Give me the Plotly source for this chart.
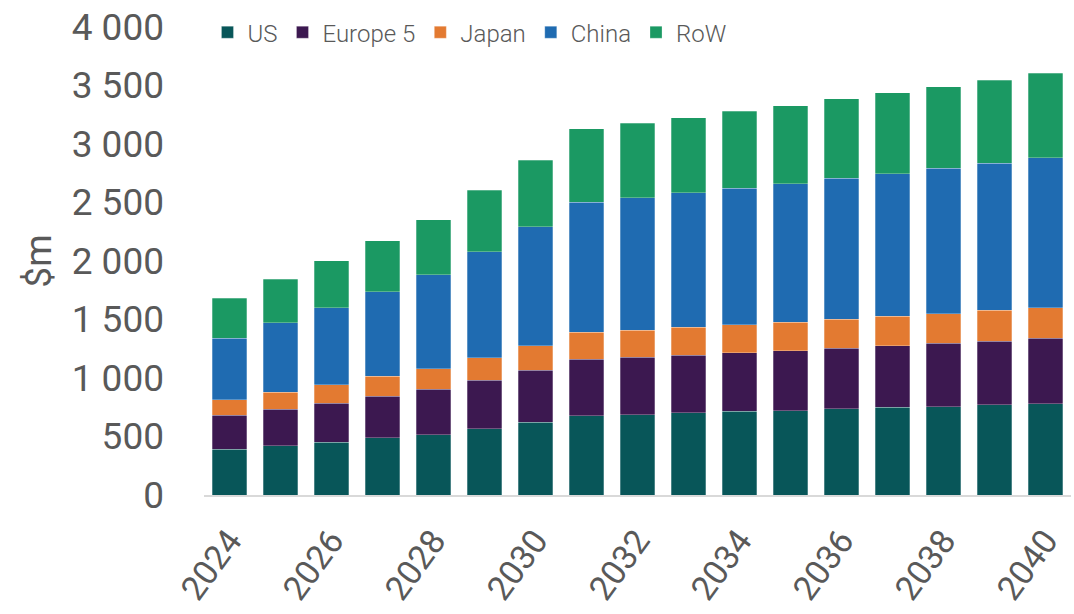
import plotly.graph_objects as go

years = [str(y) for y in range(2024, 2041)]
us = [389, 420, 451, 489, 517, 566, 620, 677, 688, 705, 714, 722, 739, 748, 756, 771, 782]
europe5 = [293, 313, 334, 355, 385, 415, 447, 484, 490, 490, 501, 513, 516, 527, 539, 544, 558]
japan = [134, 146, 159, 169, 177, 191, 208, 228, 231, 239, 242, 242, 248, 253, 254, 262, 260]
china = [524, 593, 656, 724, 803, 906, 1017, 1114, 1131, 1149, 1165, 1185, 1205, 1217, 1245, 1259, 1282]
row = [340, 370, 404, 438, 470, 525, 570, 627, 638, 643, 656, 667, 678, 692, 697, 710, 721]

series_names = ["US", "Europe 5", "Japan", "China", "RoW"]
series_vals = [us, europe5, japan, china, row]
colors = ["#085659", "#3C1850", "#E37A31", "#1F6BB1", "#1B9963"]

y_tickvals = [0, 500, 1000, 1500, 2000, 2500, 3000, 3500, 4000]
y_ticktext = ["0", "500", "1 000", "1 500", "2 000", "2 500", "3 000", "3 500", "4 000"]
x_tickvals = years[::2]

TXT = "#595959"
FONT = "Roboto"

fig = go.Figure()
for name, vals, col in zip(series_names, series_vals, colors):
    fig.add_trace(go.Bar(
        x=years, y=vals, name=name,
        marker=dict(color=col, line=dict(color="rgba(255,255,255,0.45)", width=0.6)),
    ))

fig.update_layout(
    barmode="stack",
    bargap=0.33,
    width=1074, height=614,
    margin=dict(l=204, r=3, t=27, b=119, autoexpand=False),
    paper_bgcolor="white", plot_bgcolor="white",
    font=dict(family=FONT, color=TXT),
    showlegend=True,
    legend=dict(
        orientation="h", x=0.004, y=0.988, xanchor="left", yanchor="middle",
        font=dict(size=24, color=TXT, family=FONT, weight=300),
        bgcolor="rgba(0,0,0,0)", traceorder="normal",
        itemwidth=30, tracegroupgap=0,
    ),
    xaxis=dict(
        type="category",
        tickmode="array", tickvals=x_tickvals, ticktext=x_tickvals,
        tickangle=-54,
        tickfont=dict(size=34, color=TXT, family=FONT),
        showline=True, linecolor="#D9D9D9", linewidth=2,
        showgrid=False, ticks="", ticklabelstandoff=10,
    ),
    yaxis=dict(
        range=[0, 4000],
        tickmode="array", tickvals=y_tickvals, ticktext=y_ticktext,
        tickfont=dict(size=37, color=TXT, family=FONT),
        showgrid=False, zeroline=False, showline=False, ticks="",
        ticklabelstandoff=39,
        title=dict(text="$m", font=dict(size=37, color=TXT, family=FONT), standoff=8),
    ),
)

fig.write_html("out.html", config={"displayModeBar": False},
               post_script="document.body.style.margin='0';")
